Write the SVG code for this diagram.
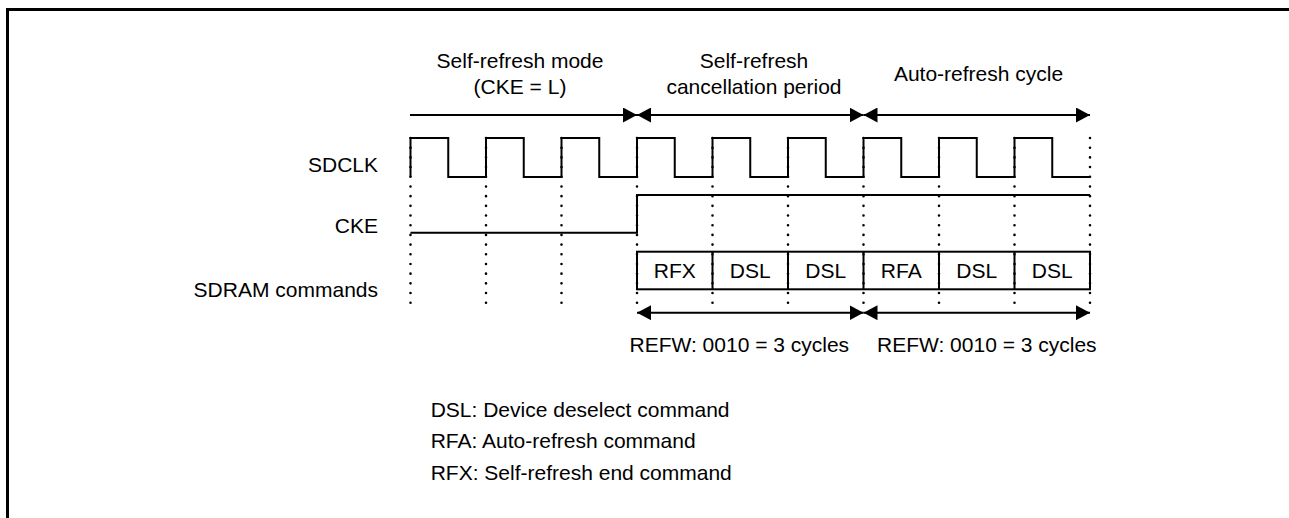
<svg xmlns="http://www.w3.org/2000/svg" width="1289" height="518" viewBox="0 0 1289 518">
<style>
text{font-family:"Liberation Sans",Arial,sans-serif;font-size:21px;fill:#000}
.mid{text-anchor:middle}
.end{text-anchor:end}
.sig{fill:none;stroke:#000;stroke-width:2}
.dot{fill:none;stroke:#000;stroke-width:2.6;stroke-linecap:round;stroke-dasharray:0 9.69}
.arr{fill:none;stroke:#000;stroke-width:2}
</style>
<defs>
<marker id="ah" viewBox="0 0 14 15" refX="14" refY="7.5" markerWidth="14" markerHeight="15" markerUnits="userSpaceOnUse" orient="auto-start-reverse">
<path d="M0,0 L14,7.5 L0,15 z" fill="#000"/>
</marker>
</defs>
<rect width="1289" height="518" fill="#fff"/>
<path d="M7.5,518 V9.5 H1289" fill="none" stroke="#000" stroke-width="3"/>

<g id="grid">
<path class="dot" d="M410.5,138 V303 M486,138 V303 M561.5,138 V303 M637,138 V303 M712.5,138 V303 M788,138 V303 M863.5,138 V303 M939,138 V303 M1014.5,138 V303 M1090,138 V303"/>
</g>

<g id="labels">
<text class="end" x="378" y="172">SDCLK</text>
<text class="end" x="378" y="233">CKE</text>
<text class="end" x="378" y="297">SDRAM commands</text>
</g>

<g id="sdclk">
<path class="sig" d="M410.5,177 V138 H448.25 V177 H486 V138 H523.75 V177 H561.5 V138 H599.25 V177 H637 V138 H674.75 V177 H712.5 V138 H750.25 V177 H788 V138 H825.75 V177 H863.5 V138 H901.25 V177 H939 V138 H976.75 V177 H1014.5 V138 H1052.25 V177 H1090"/>
</g>

<g id="cke">
<path class="sig" d="M410.5,232.7 H637 V195 H1090"/>
</g>

<g id="commands">
<rect class="sig" x="637" y="251.7" width="453" height="37.6"/>
<path class="sig" d="M712.5,251.7 V289.3 M788,251.7 V289.3 M863.5,251.7 V289.3 M939,251.7 V289.3 M1014.5,251.7 V289.3"/>
<text class="mid" x="674.75" y="278">RFX</text>
<text class="mid" x="750.25" y="278">DSL</text>
<text class="mid" x="825.75" y="278">DSL</text>
<text class="mid" x="901.25" y="278">RFA</text>
<text class="mid" x="976.75" y="278">DSL</text>
<text class="mid" x="1052.25" y="278">DSL</text>
</g>

<g id="periods">
<text class="mid" x="520" y="67.5">Self-refresh mode</text>
<text class="mid" x="520" y="94">(CKE = L)</text>
<text class="mid" x="754" y="67.5">Self-refresh</text>
<text class="mid" x="754" y="93.5">cancellation period</text>
<text class="mid" x="978.5" y="80.7">Auto-refresh cycle</text>
</g>

<g id="connectors">
<line class="arr" x1="410" y1="115" x2="637" y2="115" marker-end="url(#ah)"/>
<line class="arr" x1="637" y1="115" x2="863.5" y2="115" marker-start="url(#ah)" marker-end="url(#ah)"/>
<line class="arr" x1="863.5" y1="115" x2="1090" y2="115" marker-start="url(#ah)" marker-end="url(#ah)"/>
<line class="arr" x1="637" y1="312.7" x2="863.5" y2="312.7" marker-start="url(#ah)" marker-end="url(#ah)"/>
<line class="arr" x1="863.5" y1="312.7" x2="1090" y2="312.7" marker-start="url(#ah)" marker-end="url(#ah)"/>
</g>

<g id="refw">
<text x="629.5" y="352.3">REFW: 0010 = 3 cycles</text>
<text x="877" y="352.3">REFW: 0010 = 3 cycles</text>
</g>

<g id="legend">
<text x="430.7" y="416.7">DSL: Device deselect command</text>
<text x="430.7" y="448.3">RFA: Auto-refresh command</text>
<text x="430.7" y="480">RFX: Self-refresh end command</text>
</g>
</svg>
